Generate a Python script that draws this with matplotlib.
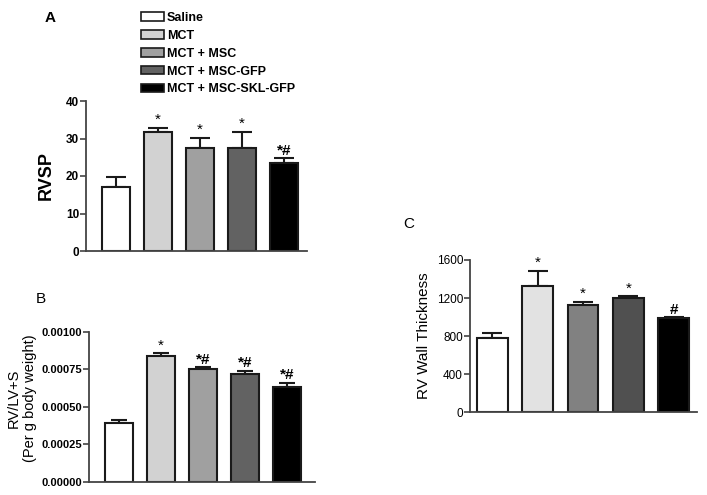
import matplotlib
matplotlib.use("Agg")
import matplotlib.pyplot as plt
from matplotlib.patches import Patch

plt.rcParams['font.family'] = ['Liberation Sans', 'DejaVu Sans']

groups = ["Saline", "MCT", "MCT + MSC", "MCT + MSC-GFP", "MCT + MSC-SKL-GFP"]

rvsp = [17.2, 31.8, 27.6, 27.6, 23.4]
rvsp_err = [2.5, 1.1, 2.6, 4.2, 1.3]
rvsp_marks = ["", "*", "*", "*", "*#"]

rvlv = [0.000393, 0.000836, 0.000749, 0.000720, 0.000633]
rvlv_err = [0.000018, 0.000020, 0.000014, 0.000020, 0.000027]
rvlv_marks = ["", "*", "*#", "*#", "*#"]

wall = [779, 1329, 1129, 1200, 989]
wall_err = [52, 155, 35, 17, 8]
wall_marks = ["", "*", "*", "*", "#"]

colors_ab = ["#ffffff", "#d2d2d2", "#a0a0a0", "#626262", "#000000"]
colors_c = ["#ffffff", "#e2e2e2", "#818181", "#505050", "#000000"]

fig = plt.figure(figsize=(7.07, 4.95), dpi=100)

def panel(rect, vals, errs, marks, colors, xlim, width, ylim, yticks, yticklabels,
          ylabel, ylabel_kw, tick_bold, mark_offset, capsize, tick_size=8):
    ax = fig.add_axes(rect)
    x = list(range(len(vals)))
    bars = ax.bar(x, vals, width=width, color=colors, edgecolor="#1a1a1a", linewidth=1.5, zorder=2)
    ax.errorbar(x, vals, yerr=[[0] * len(vals), errs], fmt="none", ecolor="#1a1a1a",
                elinewidth=1.5, capsize=capsize, capthick=1.5, zorder=1)
    for xi, v, e, m in zip(x, vals, errs, marks):
        if m:
            ax.text(xi, v + e + mark_offset, m, ha="center", va="bottom",
                    fontsize=11, fontweight="bold" if "#" in m else "normal")
    ax.set_xlim(*xlim)
    ax.set_ylim(*ylim)
    ax.set_yticks(yticks)
    ax.set_yticklabels(yticklabels, fontsize=tick_size, fontweight="bold" if tick_bold else "normal")
    ax.set_xticks([])
    for s in ["top", "right"]:
        ax.spines[s].set_visible(False)
    for s in ["left", "bottom"]:
        ax.spines[s].set_color("#444444")
        ax.spines[s].set_linewidth(1.3)
    ax.tick_params(axis="y", length=4, width=1.2, color="#444444", pad=1)
    if ylabel:
        ax.set_ylabel(ylabel, **ylabel_kw)
    return ax, bars

axA, barsA = panel([86 / 707, 1 - 251 / 495, 221 / 707, 150 / 495], rvsp, rvsp_err, rvsp_marks,
                   colors_ab, (-0.714, 4.548), 0.667, (0, 40), [0, 10, 20, 30, 40],
                   ["0", "10", "20", "30", "40"], "RVSP",
                   dict(fontsize=13, fontweight="bold", labelpad=8), True, 0.2, 7, 8.5)

axB, barsB = panel([89 / 707, 1 - 481.7 / 495, 226 / 707, 150 / 495], rvlv, rvlv_err, rvlv_marks,
                   colors_ab, (-0.714, 4.667), 0.667, (0, 0.001),
                   [0, 0.00025, 0.0005, 0.00075, 0.001],
                   ["0.00000", "0.00025", "0.00050", "0.00075", "0.00100"],
                   None, None, True, 0.000005, 6)
fig.text(22 / 707, 1 - 398 / 495, "RV/LV+S\n(Per g body weight)", rotation=90, fontsize=10.5,
         ha="center", va="center", multialignment="center", linespacing=1.15)

axC, barsC = panel([470 / 707, 1 - 412.3 / 495, 227 / 707, 152.3 / 495], wall, wall_err, wall_marks,
                   colors_c, (-0.49, 4.51), 0.68, (0, 1600), [0, 400, 800, 1200, 1600],
                   ["0", "400", "800", "1200", "1600"], "RV Wall Thickness",
                   dict(fontsize=11, labelpad=4), False, 8, 7, 8.5)

fig.text(50 / 707, 1 - 18 / 495, "A", fontsize=11, fontweight="bold", ha="center", va="center")
fig.text(41 / 707, 1 - 299 / 495, "B", fontsize=11, ha="center", va="center")
fig.text(409 / 707, 1 - 224 / 495, "C", fontsize=11, ha="center", va="center")

handles = [Patch(facecolor=c, edgecolor="#1a1a1a", linewidth=1.2) for c in colors_ab]
fig.legend(handles, groups, loc="upper left", bbox_to_anchor=(136 / 707, 1 - 7 / 495),
           frameon=False, prop=dict(size=9, weight="bold"), handlelength=1.85, handleheight=0.65,
           handletextpad=0.2, labelspacing=0.47, borderaxespad=0)

fig.savefig("out.png", dpi=100)
